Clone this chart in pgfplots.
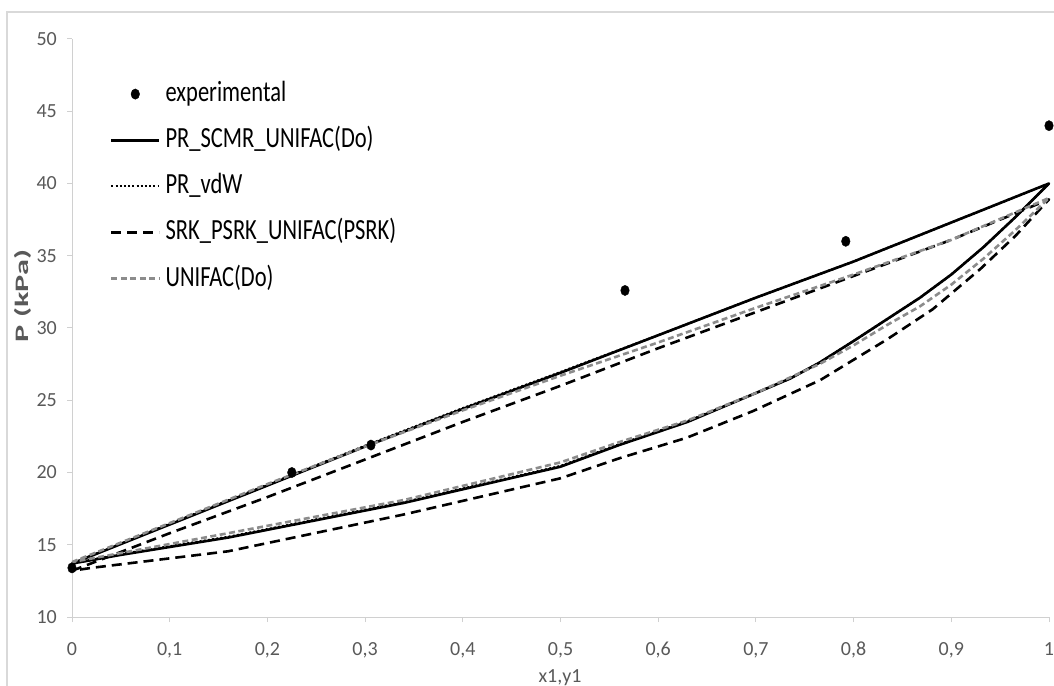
\documentclass[border=0pt]{standalone}
\usepackage{pgfplots}
\pgfplotsset{compat=1.18}
\usepackage{pgfplotstable}
\usepackage{graphicx}
\usepackage{fontspec}
\setmainfont{Carlito}
\definecolor{axgray}{HTML}{D0D0D0}
\definecolor{framegray}{HTML}{D9D9D9}
\definecolor{tkgray}{HTML}{595959}
\definecolor{unigray}{HTML}{8C8C8C}
\newcommand{\lgt}[1]{\scalebox{1}[1.3]{#1}}

\pgfplotstableread{
x P
0 13.4
0.225 20.0
0.306 21.9
0.566 32.6
0.792 36.0
1.0 44.0
}\expdata

% PR_SCMR_UNIFAC(Do): bubble curve (x1) then dew curve (y1)
\pgfplotstableread{
x P
0 13.7
0.1 16.4
0.2 19.1
0.3 21.8
0.4 24.4
0.5 26.9
0.6 29.5
0.7 32.1
0.8 34.6
0.9 37.3
1 40.0
0.966 37.7
0.933 35.6
0.9 33.7
0.868 32.1
0.834 30.6
0.8 29.1
0.765 27.6
0.735 26.5
0.7 25.5
0.63 23.5
0.56 21.9
0.5 20.4
0.34 17.9
0.16 15.5
0.05 14.3
0 13.7
}\scmr

% PR_vdW
\pgfplotstableread{
x P
0 13.7
0.1 16.45
0.2 19.15
0.3 21.85
0.4 24.45
0.5 26.95
0.6 29.5
0.7 32.1
0.8 34.6
0.9 37.3
1 40.0
0.966 37.7
0.933 35.6
0.9 33.7
0.868 32.1
0.834 30.6
0.8 29.1
0.765 27.6
0.735 26.5
0.7 25.5
0.63 23.55
0.56 21.95
0.5 20.45
0.34 17.95
0.16 15.55
0.05 14.35
0 13.7
}\vdw

% SRK_PSRK_UNIFAC(PSRK)
\pgfplotstableread{
x P
0 13.2
0.1 15.8
0.2 18.3
0.3 20.9
0.4 23.5
0.5 26.0
0.6 28.6
0.7 31.1
0.8 33.6
0.9 36.1
1 38.9
0.966 36.4
0.93 34.1
0.881 31.3
0.834 29.2
0.766 26.4
0.697 24.25
0.629 22.4
0.561 21.0
0.5 19.6
0.34 17.1
0.16 14.55
0.02 13.4
0 13.2
}\psrk

% UNIFAC(Do)
\pgfplotstableread{
x P
0 13.8
0.1 16.5
0.2 19.2
0.3 21.8
0.4 24.3
0.5 26.7
0.6 29.0
0.7 31.4
0.8 33.7
0.9 36.1
1 39.0
0.966 36.8
0.933 34.8
0.9 33.0
0.868 31.5
0.834 30.2
0.8 28.8
0.765 27.5
0.7 25.5
0.63 23.6
0.56 22.1
0.5 20.7
0.34 18.1
0.16 15.8
0 13.8
}\unifac

\begin{document}
\begin{tikzpicture}
\begin{axis}[
  at={(0,0)}, anchor=south west,
  scale only axis, width=977bp, height=578bp,
  xmin=0, xmax=1, ymin=10, ymax=50,
  clip=false,
  axis x line*=bottom, axis y line*=left,
  axis line style={draw=axgray, line width=1bp, -},
  tick align=outside, major tick length=5bp,
  tick style={draw=axgray, line width=1bp},
  xtick={0,0.1,0.2,0.3,0.4,0.5,0.6,0.7,0.8,0.9,1},
  xticklabels={0,{0,1},{0,2},{0,3},{0,4},{0,5},{0,6},{0,7},{0,8},{0,9},1},
  ytick={10,15,20,25,30,35,40,45,50},
  yticklabels={10,15,20,25,30,35,40,45,50},
  xticklabel style={font=\fontsize{20bp}{24bp}\selectfont, text=tkgray, anchor=base, inner sep=0pt, yshift=-33bp},
  yticklabel style={font=\fontsize{20bp}{24bp}\selectfont, text=tkgray, anchor=east, inner sep=0pt, xshift=-10bp},
  legend cell align=left,
  legend image code/.code={\draw[#1] (0bp,0bp) -- (48bp,0bp);},
  legend style={draw=none, fill=none, at={(rel axis cs:0,1)}, anchor=north west,
    xshift=38bp, yshift=-40.6bp, inner sep=0pt, outer sep=0pt,
    row sep=17.1bp, column sep=5bp,
    font=\fontsize{22.5bp}{27bp}\selectfont,
    nodes={inner sep=0pt, text height=22bp, text depth=7bp}},
  line join=round,
]
\addplot[only marks, mark=*, mark size=4.3bp,
  mark options={fill=black, draw=black, yscale=1.2},
  legend image code/.code={\fill[black] (24bp,0bp) ellipse [x radius=4.3bp, y radius=5.2bp];}]
  table {\expdata};
\addlegendentry{\lgt{experimental}}

\addplot[black, line width=2.6bp, mark=none]
  table {\scmr};
\addlegendentry{\lgt{PR\_SCMR\_UNIFAC(Do)}}

\addplot[black, line width=2.2bp, dash pattern=on 2bp off 2.2bp, mark=none]
  table {\vdw};
\addlegendentry{\lgt{PR\_vdW}}

\addplot[black, line width=2.6bp, dash pattern=on 10bp off 6bp, mark=none]
  table {\psrk};
\addlegendentry{\lgt{SRK\_PSRK\_UNIFAC(PSRK)}}

\addplot[unigray, line width=2.6bp, dash pattern=on 6bp off 3.5bp, mark=none]
  table {\unifac};
\addlegendentry{\lgt{UNIFAC(Do)}}
\end{axis}
\node[rotate=90, text=tkgray, font=\fontsize{19bp}{22bp}\selectfont\bfseries, inner sep=0pt]
  at (-49bp,321bp) {\scalebox{1.7}[1]{P (kPa)}};
\node[anchor=base, text=tkgray, font=\fontsize{20bp}{24bp}\selectfont, inner sep=0pt]
  at (488bp,-65bp) {x1,y1};
\draw[framegray, line width=1.5bp] (-65bp,-80bp) -- (-65bp,605bp) -- (1000bp,605bp);
\pgfresetboundingbox
\path[use as bounding box] (-72bp,-69bp) rectangle (982bp,617bp);
\end{tikzpicture}
\end{document}
